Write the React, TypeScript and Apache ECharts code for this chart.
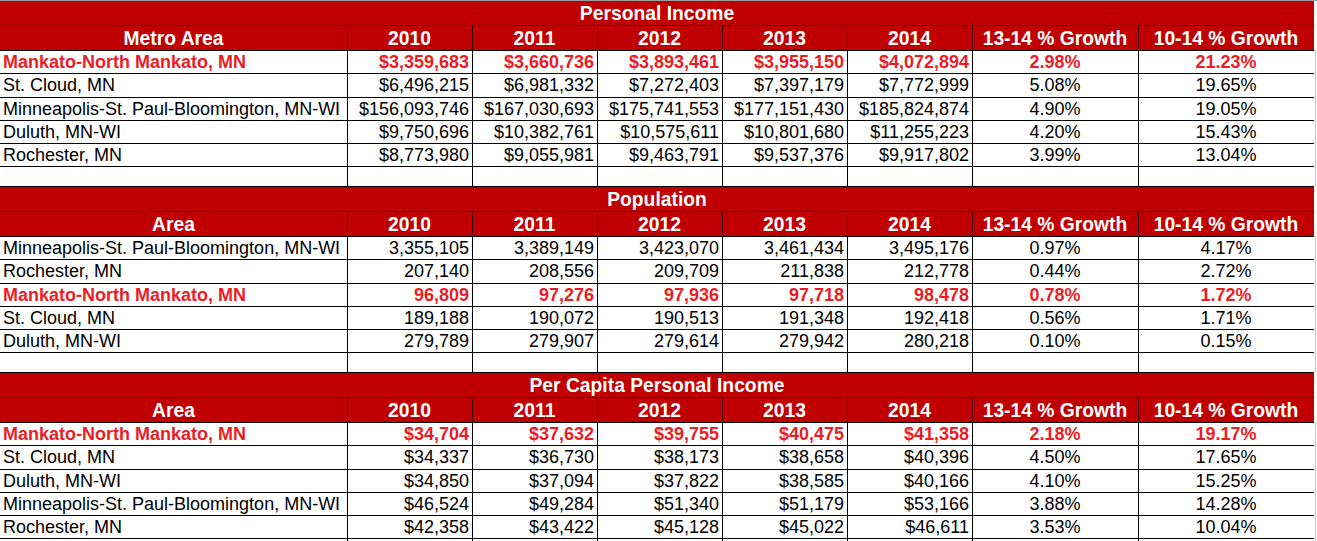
import React, { useEffect, useRef } from "react";
import * as echarts from "echarts";

// ---------- data ----------
const SECTION_TITLES = ["Personal Income", "Population", "Per Capita Personal Income"];
const FIRST_HEADERS = ["Metro Area", "Area", "Area"];
const YEARS = ["2010", "2011", "2012", "2013", "2014"];
const GROWTH_HEADERS = ["13-14 % Growth", "10-14 % Growth"];
const HIGHLIGHT = "Mankato-North Mankato, MN";
const PREFIXES = ["$", "", "$"];

const incomeAreas = [
  "Mankato-North Mankato, MN",
  "St. Cloud, MN",
  "Minneapolis-St. Paul-Bloomington, MN-WI",
  "Duluth, MN-WI",
  "Rochester, MN",
];
const incomeValues = [
  [3359683, 3660736, 3893461, 3955150, 4072894],
  [6496215, 6981332, 7272403, 7397179, 7772999],
  [156093746, 167030693, 175741553, 177151430, 185824874],
  [9750696, 10382761, 10575611, 10801680, 11255223],
  [8773980, 9055981, 9463791, 9537376, 9917802],
];
const incomeGrowth = [
  [2.98, 21.23],
  [5.08, 19.65],
  [4.9, 19.05],
  [4.2, 15.43],
  [3.99, 13.04],
];

const popAreas = [
  "Minneapolis-St. Paul-Bloomington, MN-WI",
  "Rochester, MN",
  "Mankato-North Mankato, MN",
  "St. Cloud, MN",
  "Duluth, MN-WI",
];
const popValues = [
  [3355105, 3389149, 3423070, 3461434, 3495176],
  [207140, 208556, 209709, 211838, 212778],
  [96809, 97276, 97936, 97718, 98478],
  [189188, 190072, 190513, 191348, 192418],
  [279789, 279907, 279614, 279942, 280218],
];
const popGrowth = [
  [0.97, 4.17],
  [0.44, 2.72],
  [0.78, 1.72],
  [0.56, 1.71],
  [0.1, 0.15],
];

const pcAreas = [
  "Mankato-North Mankato, MN",
  "St. Cloud, MN",
  "Duluth, MN-WI",
  "Minneapolis-St. Paul-Bloomington, MN-WI",
  "Rochester, MN",
];
const pcValues = [
  [34704, 37632, 39755, 40475, 41358],
  [34337, 36730, 38173, 38658, 40396],
  [34850, 37094, 37822, 38585, 40166],
  [46524, 49284, 51340, 51179, 53166],
  [42358, 43422, 45128, 45022, 46611],
];
const pcGrowth = [
  [2.18, 19.17],
  [4.5, 17.65],
  [4.1, 15.25],
  [3.88, 14.28],
  [3.53, 10.04],
];

const SECTIONS = [
  { areas: incomeAreas, values: incomeValues, growth: incomeGrowth },
  { areas: popAreas, values: popValues, growth: popGrowth },
  { areas: pcAreas, values: pcValues, growth: pcGrowth },
];

// ---------- layout ----------
const COLS = [0, 347, 472, 597, 722, 847, 972, 1138, 1314];
const SECTION_STEP = 186;
const TITLE_H = 25;
const HEAD_H = 25;
const ROW_H = 23.25;
const FONT = "'Liberation Sans', Arial, sans-serif";
const FS = 18;
const HFS = 19.3;
const RED_FILL = "#C00000";
const RED_TEXT = "#EC1C24";
const HEAD_LINE = "#3a0000";

function buildGraphic() {
  const els: any[] = [];
  const hline = (x1: number, x2: number, y: number, color: string) =>
    els.push({ type: "line", silent: true, shape: { x1, y1: y, x2, y2: y }, style: { stroke: color, lineWidth: 1 } });
  const vline = (x: number, y1: number, y2: number, color: string) =>
    els.push({ type: "line", silent: true, shape: { x1: x, y1, x2: x, y2 }, style: { stroke: color, lineWidth: 1 } });
  const text = (t: string, x: number, y: number, align: string, color: string, bold: boolean, size = FS) =>
    els.push({
      type: "text",
      silent: true,
      x,
      y,
      style: {
        text: t,
        fill: color,
        fontFamily: FONT,
        fontSize: size,
        fontWeight: bold ? "bold" : "normal",
        textAlign: align,
        textVerticalAlign: "middle",
        align,
        verticalAlign: "middle",
      },
    });

  const W = COLS[COLS.length - 1];
  els.push({ type: "rect", silent: true, shape: { x: 0, y: 0, width: W + 3, height: 1 }, style: { fill: "#a0a0a0" } });

  SECTIONS.forEach((sec, k) => {
    const s = k * SECTION_STEP;
    const titleTop = k === 0 ? 1 : s;
    // title row
    els.push({ type: "rect", silent: true, shape: { x: 0, y: titleTop, width: W, height: s + TITLE_H - titleTop }, style: { fill: RED_FILL } });
    text(SECTION_TITLES[k], W / 2, s + TITLE_H / 2 + 0.5, "center", "#ffffff", true, HFS);
    // header row
    const hTop = s + TITLE_H;
    els.push({ type: "rect", silent: true, shape: { x: 0, y: hTop, width: W, height: HEAD_H }, style: { fill: RED_FILL } });
    const headers = [FIRST_HEADERS[k], ...YEARS, ...GROWTH_HEADERS];
    headers.forEach((h, c) => {
      text(h, (COLS[c] + COLS[c + 1]) / 2, hTop + HEAD_H / 2 + 0.5, "center", "#ffffff", true, HFS);
    });
    for (let c = 1; c < COLS.length - 1; c++) vline(COLS[c] + 0.5, hTop, hTop + HEAD_H, HEAD_LINE);
    hline(0, W, hTop + 0.5, HEAD_LINE);
    if (k > 0) hline(0, W, s + 0.5, "#000000");

    // data rows
    const dTop = hTop + HEAD_H;
    hline(0, W, dTop + 0.5, "#000000");
    sec.areas.forEach((area, i) => {
      const top = dTop + i * ROW_H;
      const cy = top + ROW_H / 2 + 0.5;
      const hl = area === HIGHLIGHT;
      const color = hl ? RED_TEXT : "#000000";
      text(area, 3, cy, "left", color, hl);
      sec.values[i].forEach((v, j) => {
        text(PREFIXES[k] + v.toLocaleString("en-US"), COLS[j + 2] - 3, cy, "right", color, hl);
      });
      sec.growth[i].forEach((g, j) => {
        text(g.toFixed(2) + "%", (COLS[j + 6] + COLS[j + 7]) / 2, cy, "center", color, hl);
      });
      hline(0, W, Math.round(top + ROW_H) + 0.5, "#000000");
    });
    const dEnd = k < SECTIONS.length - 1 ? s + SECTION_STEP : 541;
    for (let c = 1; c < COLS.length - 1; c++) vline(COLS[c] + 0.5, dTop, dEnd, "#000000");
    vline(W + 1.5, dTop, dEnd, "#c8c8c8");
  });
  return els;
}

export default function App() {
  const ref = useRef<HTMLDivElement>(null);
  useEffect(() => {
    document.body.style.margin = "0";
    const chart = echarts.init(ref.current!, null, { renderer: "svg" });
    chart.setOption({
      animation: false,
      backgroundColor: "#ffffff",
      graphic: { elements: buildGraphic() },
    });
    return () => chart.dispose();
  }, []);
  return (
    <div
      ref={ref}
      style={{ position: "absolute", left: 0, top: 0, width: 1317, height: 541 }}
    />
  );
}
